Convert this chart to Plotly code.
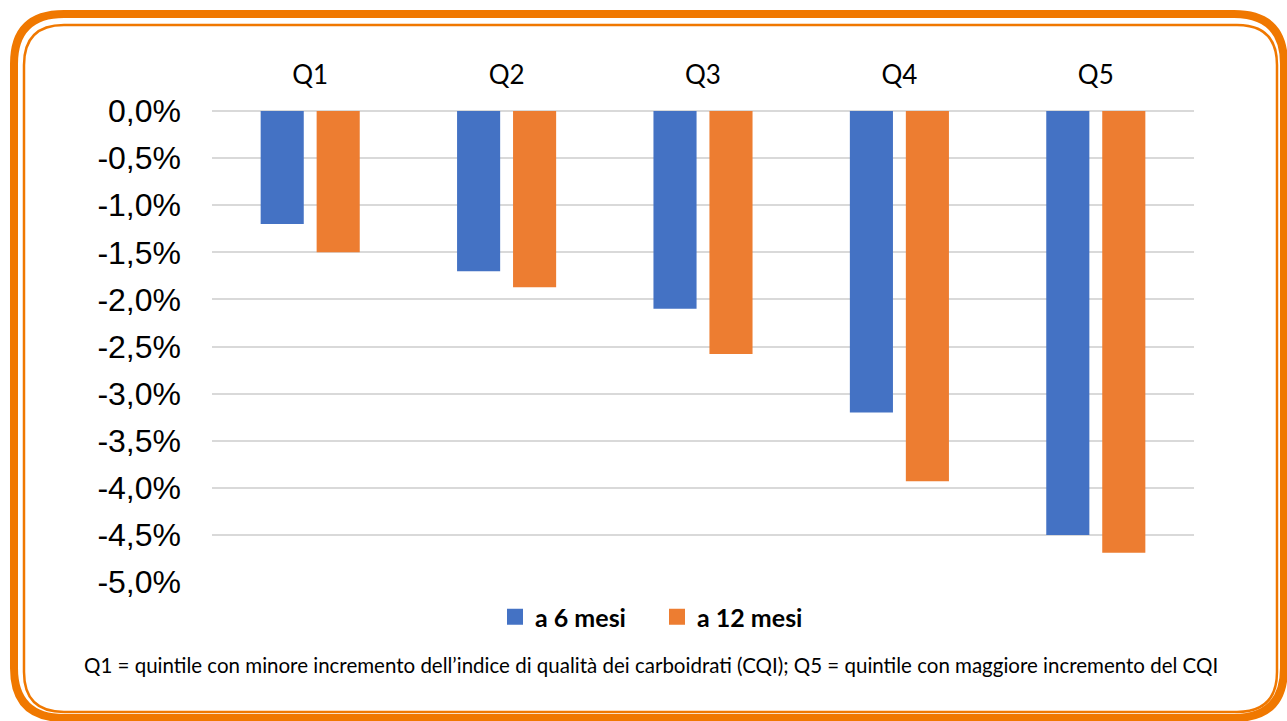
import plotly.graph_objects as go

categories = ["Q1", "Q2", "Q3", "Q4", "Q5"]
series_names = ["a 6 mesi", "a 12 mesi"]
values_6m = [-1.2, -1.7, -2.1, -3.2, -4.5]      # percent
values_12m = [-1.5, -1.87, -2.58, -3.93, -4.69]  # percent
y_tickvals = [0, -0.5, -1, -1.5, -2, -2.5, -3, -3.5, -4, -4.5, -5]
y_ticktext = ["0,0%", "-0,5%", "-1,0%", "-1,5%", "-2,0%", "-2,5%", "-3,0%", "-3,5%",
              "-4,0%", "-4,5%", "-5,0%"]
footnote = ("Q1 = quintile con minore incremento dell\u2019indice di qualità dei carboidrati (CQI); "
            "Q5 = quintile con maggiore incremento del CQI")
colors = ["#4472C4", "#ED7D31"]

W, H = 1287, 721
L, R, T, B = 212, 93, 111, 139
PW, PH = W - L - R, H - T - B


def px(x):
    return (x - L) / PW


def py(y):
    return (H - B - y) / PH


def rounded_path(x0, y0, x1, y1, r):
    pts = [
        ("M", [(x0 + r, y0)]),
        ("L", [(x1 - r, y0)]),
        ("Q", [(x1, y0), (x1, y0 + r)]),
        ("L", [(x1, y1 - r)]),
        ("Q", [(x1, y1), (x1 - r, y1)]),
        ("L", [(x0 + r, y1)]),
        ("Q", [(x0, y1), (x0, y1 - r)]),
        ("L", [(x0, y0 + r)]),
        ("Q", [(x0, y0), (x0 + r, y0)]),
    ]
    s = ""
    for cmd, ps in pts:
        s += cmd + " " + " ".join(f"{px(a):.5f},{py(b):.5f}" for a, b in ps) + " "
    return s + "Z"


fig = go.Figure()
for name, vals, col in zip(series_names, [values_6m, values_12m], colors):
    fig.add_trace(go.Bar(x=categories, y=[v / 100 for v in vals], name=name,
                         marker=dict(color=col, line=dict(width=0)), showlegend=False))
# legend entries with larger square swatches
for name, col in zip(series_names, colors):
    fig.add_trace(go.Scatter(x=[None], y=[None], mode="markers", name=name,
                             marker=dict(symbol="square", size=17, color=col, line=dict(width=0)),
                             showlegend=True))

BORDER = "#F07800"
fig.add_shape(type="path", path=rounded_path(14, 14, 1284, 718, 50), xref="paper", yref="paper",
              line=dict(color=BORDER, width=8), layer="below")
fig.add_shape(type="path", path=rounded_path(24, 25, 1277, 712, 40), xref="paper", yref="paper",
              line=dict(color=BORDER, width=2.5), layer="below")

fig.add_annotation(text=footnote, xref="paper", yref="paper", x=px(651), y=py(665),
                   xanchor="center", yanchor="middle", showarrow=False,
                   font=dict(family="Lato", size=20.5, color="#000000"))

fig.update_layout(
    width=W, height=H,
    margin=dict(l=L, r=R, t=T, b=B, pad=0),
    paper_bgcolor="white", plot_bgcolor="white",
    barmode="group", bargap=0.43, bargroupgap=0.23,
    showlegend=True,
    legend=dict(orientation="h", x=px(657), xanchor="center", y=py(617), yanchor="middle",
                font=dict(family="Lato", size=25, color="#000000", weight="bold"),
                itemwidth=30, traceorder="normal", entrywidth=117, entrywidthmode="pixels"),
    xaxis=dict(side="top", showgrid=False, showline=False, zeroline=False, ticks="",
               ticklabelstandoff=21,
               tickfont=dict(family="Lato", size=26, color="#000000")),
    yaxis=dict(range=[-0.05, 0], tickvals=[v / 100 for v in y_tickvals], ticktext=y_ticktext,
               showgrid=True, gridcolor="#D9D9D9", gridwidth=1.5, zeroline=True,
               zerolinecolor="#D9D9D9", zerolinewidth=1.5, showline=False, ticks="",
               ticklabelstandoff=30,
               tickfont=dict(family="Liberation Sans", size=32, color="#000000")),
)

fig.write_html("out.html")
